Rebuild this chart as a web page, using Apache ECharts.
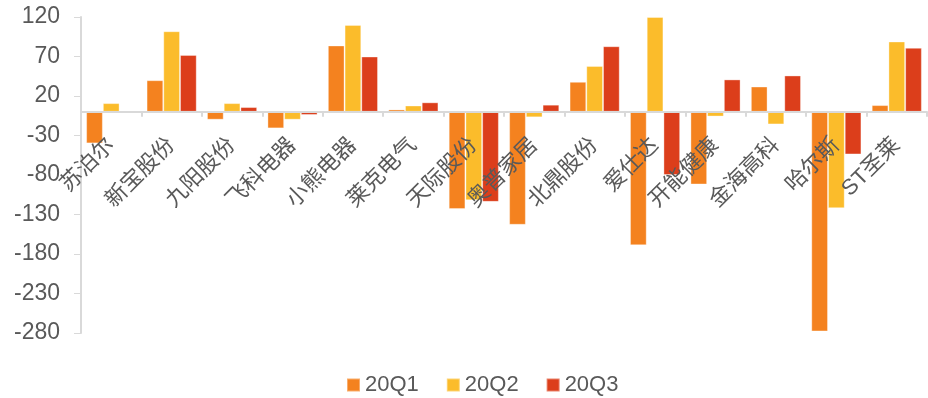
<!DOCTYPE html>
<html>
<head>
<meta charset="utf-8">
<script src="https://cdn.jsdelivr.net/npm/echarts@6/dist/echarts.min.js"></script>
<style>
html,body{margin:0;padding:0;background:#fff;}
#chart{width:928px;height:398px;}
</style>
</head>
<body>
<div id="chart"></div>
<script>
var categories = ['苏泊尔','新宝股份','九阳股份','飞科电器','小熊电器','莱克电气','天际股份','奥普家居','北鼎股份','爱仕达','开能健康','金海高科','哈尔斯','ST圣莱'];
var q1 = [-40, 40, -10, -21, 84, 3, -123, -143, 38, -169, -92, 32, -278, 8.5];
var q2 = [11, 102, 11, -10, 110, 8, -112, -7, 58, 120, -6, -16, -122, 89];
var q3 = [0.5, 72, 6, -4, 70, 12, -114, 9, 83, -80, 41, 46, -54, 81];
var seriesNames = ['20Q1','20Q2','20Q3'];
var yTicks = [-280, -230, -180, -130, -80, -30, 20, 70, 120];

var colors = ['#F4821F', '#FBBC2B', '#DC3E1B'];
var font = '"Liberation Sans", Arial, "Noto Sans CJK SC", sans-serif';

var gridTop = 17, gridBottom = 65, H = 398;
var plotH = H - gridTop - gridBottom;
var yMin = -280, yMax = 120;
// distance from plot bottom to the zero line, used to lift the category axis onto y=0
var zeroFromBottom = plotH * (0 - yMin) / (yMax - yMin);

var chart = echarts.init(document.getElementById('chart'));
chart.setOption({
  animation: false,
  color: colors,
  grid: {left: 81, right: 1, top: gridTop, bottom: gridBottom, containLabel: false, outerBoundsMode: 'none'},
  legend: {
    data: seriesNames,
    left: 346, top: 374, padding: 0,
    icon: 'rect', itemWidth: 13, itemHeight: 13, itemGap: 27,
    textStyle: {fontSize: 22, color: '#595959', fontFamily: font}
  },
  xAxis: {
    type: 'category',
    data: categories,
    position: 'bottom',
    offset: -zeroFromBottom,
    z: 10,
    axisLine: {onZero: false, lineStyle: {color: '#D9D9D9', width: 2}},
    axisTick: {show: true, length: 5, lineStyle: {color: '#D9D9D9', width: 2}},
    axisLabel: {rotate: 45, margin: 30, fontSize: 22, color: '#595959', fontFamily: font, interval: 0, hideOverlap: false}
  },
  yAxis: {
    type: 'value',
    min: yMin, max: yMax,
    splitLine: {show: false},
    axisLine: {show: true, lineStyle: {color: '#D9D9D9', width: 2}},
    axisTick: {show: true, length: 7, customValues: yTicks, lineStyle: {color: '#D9D9D9', width: 1}},
    axisLabel: {customValues: yTicks, margin: 21, fontSize: 23, color: '#595959', fontFamily: font}
  },
  series: [
    {name: seriesNames[0], type: 'bar', data: q1, barGap: '0%', barCategoryGap: '17%', itemStyle: {borderColor: 'rgba(255,255,255,0.35)', borderWidth: 1}},
    {name: seriesNames[1], type: 'bar', data: q2, barGap: '0%', barCategoryGap: '17%', itemStyle: {borderColor: 'rgba(255,255,255,0.35)', borderWidth: 1}},
    {name: seriesNames[2], type: 'bar', data: q3, barGap: '0%', barCategoryGap: '17%', itemStyle: {borderColor: 'rgba(255,255,255,0.35)', borderWidth: 1}}
  ]
});
</script>
</body>
</html>
